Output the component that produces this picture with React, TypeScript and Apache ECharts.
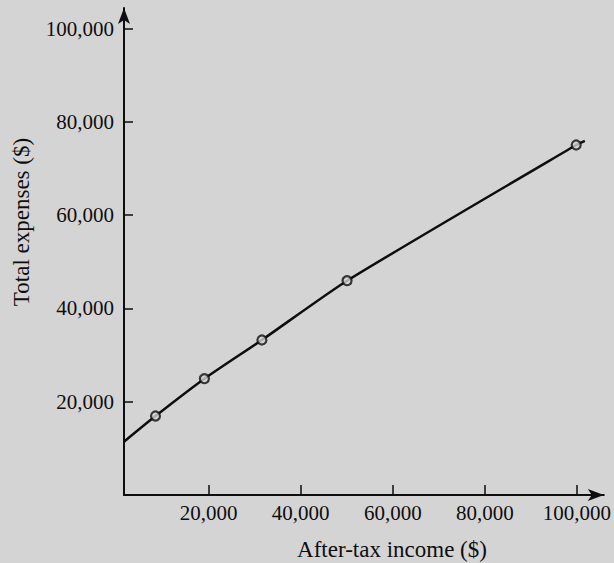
import React, { useEffect, useRef } from "react";
import * as echarts from "echarts";

const xTickValues = [20000, 40000, 60000, 80000, 100000];
const yTickValues = [20000, 40000, 60000, 80000, 100000];
const pointIncome = [8440, 19070, 31560, 50070, 99850];
const pointExpense = [16930, 24930, 33230, 45940, 75030];
const curveIncome = [1600, 8440, 19070, 31560, 50070, 99850, 101730];
const curveExpense = [11430, 16930, 24930, 33230, 45940, 75030, 75900];

const xTitle = "After-tax income ($)";
const yTitle = "Total expenses ($)";

const BG = "#d4d4d4";
const INK = "#0e0e0e";
const FONT = "'Liberation Serif', 'DejaVu Serif', serif";

export default function App() {
  const ref = useRef<HTMLDivElement>(null);

  useEffect(() => {
    if (!ref.current) return;
    const chart = echarts.init(ref.current, undefined, { renderer: "svg" });
    const fmt = (v: number) => v.toLocaleString("en-US");
    chart.setOption({
      animation: false,
      backgroundColor: BG,
      grid: { left: 124, right: 9, top: 8, bottom: 68, containLabel: false },
      xAxis: {
        type: "value",
        min: 1600,
        max: 105850,
        axisLine: {
          show: true,
          onZero: false,
          symbol: ["none", "arrow"],
          symbolSize: [9, 16],
          lineStyle: { color: INK, width: 2 },
        },
        axisTick: {
          show: true,
          inside: true,
          length: 10,
          customValues: xTickValues,
          lineStyle: { color: INK, width: 1.5 },
        },
        axisLabel: {
          customValues: xTickValues,
          formatter: fmt,
          fontFamily: FONT,
          fontSize: 21,
          color: INK,
          margin: 7,
        },
        splitLine: { show: false },
      },
      yAxis: {
        type: "value",
        min: 0,
        max: 104400,
        axisLine: {
          show: true,
          onZero: false,
          symbol: ["none", "arrow"],
          symbolSize: [9, 16],
          lineStyle: { color: INK, width: 2 },
        },
        axisTick: {
          show: true,
          inside: true,
          length: 9,
          customValues: yTickValues,
          lineStyle: { color: INK, width: 1.5 },
        },
        axisLabel: {
          customValues: yTickValues,
          formatter: fmt,
          fontFamily: FONT,
          fontSize: 21,
          color: INK,
          margin: 10,
        },
        splitLine: { show: false },
      },
      series: [
        {
          type: "line",
          data: curveIncome.map((x, i) => [x, curveExpense[i]]),
          smooth: 0.2,
          showSymbol: false,
          lineStyle: { color: INK, width: 2.5 },
          z: 2,
        },
        {
          type: "scatter",
          data: pointIncome.map((x, i) => [x, pointExpense[i]]),
          symbol: "circle",
          symbolSize: 9,
          itemStyle: { color: BG, borderColor: INK, borderWidth: 2.2 },
          z: 3,
        },
      ],
      graphic: [
        {
          type: "text",
          x: 392,
          y: 549,
          style: {
            text: xTitle,
            font: `23px ${FONT}`,
            fill: INK,
            textAlign: "center",
            textVerticalAlign: "middle",
          },
        },
        {
          type: "text",
          x: 21,
          y: 222,
          rotation: Math.PI / 2,
          style: {
            text: yTitle,
            font: `23px ${FONT}`,
            fill: INK,
            textAlign: "center",
            textVerticalAlign: "middle",
          },
        },
      ],
    });
    return () => chart.dispose();
  }, []);

  return (
    <div
      ref={ref}
      style={{ position: "fixed", left: 0, top: 0, width: 614, height: 563, background: BG }}
    />
  );
}
